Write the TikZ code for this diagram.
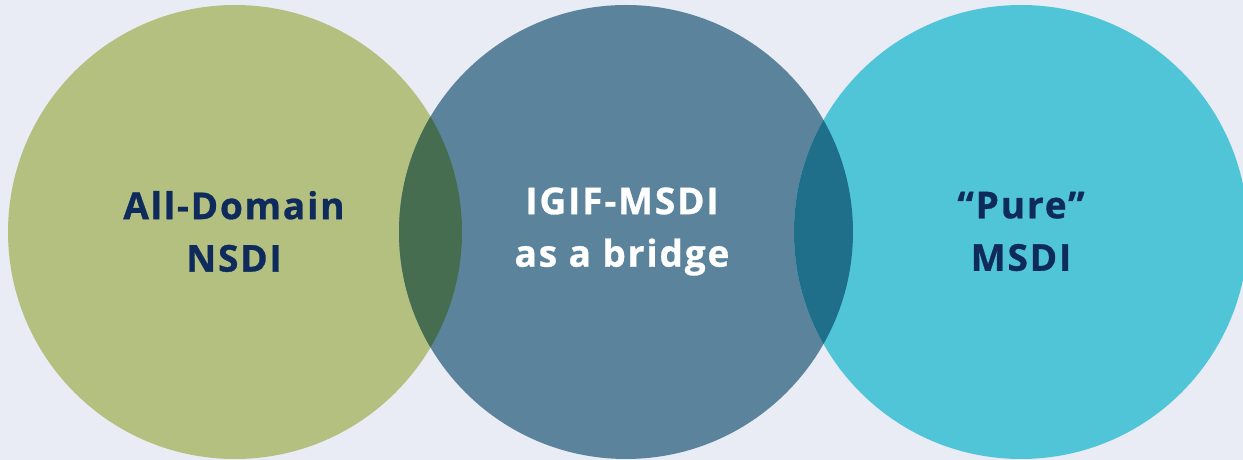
\documentclass[tikz,border=0pt]{standalone}
\usepackage{fontspec}
\setmainfont[LetterSpace=5, BoldFeatures={FakeBold=0.8}]{Open Sans}
\usepackage{xcolor}
\definecolor{bgblue}{HTML}{E9ECF4}
\definecolor{leafgreen}{HTML}{B4C07F}
\definecolor{slateblue}{HTML}{5B839C}
\definecolor{skycyan}{HTML}{50C5D8}
\definecolor{mossdark}{HTML}{466D50}
\definecolor{tealdark}{HTML}{1F6F8A}
\definecolor{navytext}{HTML}{0E2B5C}

\tikzset{
  venntext/.style={align=center, font=\bfseries\fontsize{37}{52.5}\selectfont, inner sep=0pt}
}

\begin{document}
\begin{tikzpicture}[x=1pt,y=1pt]
 \pgfmathsetmacro{\r}{227}
 \fill[bgblue] (0,0) rectangle (1243,460);
 \useasboundingbox (0,0) rectangle (1243,460);

 % the three circles
 \fill[leafgreen] (235,228) circle (\r pt);
 \fill[slateblue] (626,228) circle (\r pt);
 \fill[skycyan] (1021,228) circle (\r pt);

 % the two overlaps
 \begin{scope}
  \clip (235,228) circle (\r pt);
  \fill[mossdark] (626,228) circle (\r pt);
 \end{scope}
 \begin{scope}
  \clip (626,228) circle (\r pt);
  \fill[tealdark] (1021,228) circle (\r pt);
 \end{scope}

 \node[venntext, navytext] (nsdi) at (234,228.5) {All-Domain\\NSDI};
 \node[venntext, white] (bridge) at (622,228.5) {IGIF-MSDI\\as a bridge};
 \node[venntext, navytext] (msdi) at (1021,228.5) {“Pure”\\MSDI};
\end{tikzpicture}
\end{document}
